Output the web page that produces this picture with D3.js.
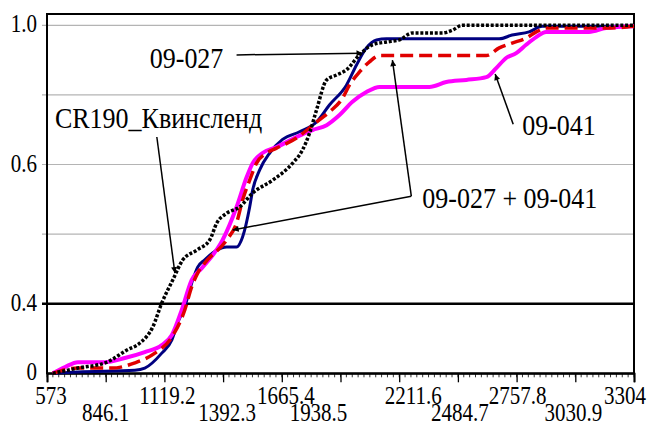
<!DOCTYPE html>
<html>
<head>
<meta charset="utf-8">
<script src="https://cdn.jsdelivr.net/npm/d3@7"></script>
<style>
  body { margin: 0; background: #fff; }
  svg { display: block; font-family: "Liberation Serif", "Times New Roman", serif; }
</style>
</head>
<body>
<svg id="chart" width="653" height="426"></svg>
<script>
'use strict';
// axis values
const xTicks = [573, 846.1, 1119.2, 1392.3, 1665.4, 1938.5, 2211.6, 2484.7, 2757.8, 3030.9, 3304];
const yTicks = [0, 0.2, 0.4, 0.6, 0.8, 1.0];
const yTickLabels = ["0", "0.4", "", "0.6", "", "1.0"];

// series, [value, cumulative share]
const s09027 = [[600,0],[717,0.004],[982,0.009],[1028,0.015],[1107,0.058],[1154,0.096],[1181,0.145],
  [1214,0.191],[1246,0.259],[1274,0.305],[1307,0.326],[1363,0.354],[1409,0.363],[1455,0.363],[1483,0.392],
  [1516,0.478],[1530,0.527],[1562,0.584],[1609,0.633],[1669,0.672],[1748,0.694],[1827,0.722],[1887,0.771],
  [1966,0.828],[2013,0.886],[2059,0.935],[2106,0.958],[2152,0.961],[2677,0.961],[2737,0.972],[2816,0.981],
  [2877,0.997],[3304,0.997]];
const s09041 = [[600,0],[657,0.018],[717,0.032],[842,0.032],[935,0.044],[1028,0.061],[1107,0.081],
  [1154,0.110],[1200,0.182],[1246,0.268],[1293,0.302],[1390,0.383],[1455,0.478],[1502,0.564],[1530,0.604],
  [1576,0.633],[1641,0.650],[1734,0.679],[1808,0.699],[1874,0.713],[1934,0.742],[1994,0.780],[2059,0.808],
  [2120,0.823],[2352,0.823],[2431,0.837],[2524,0.843],[2617,0.851],[2663,0.877],[2709,0.906],[2756,0.920],
  [2802,0.944],[2849,0.966],[2895,0.981],[3095,0.981],[3174,0.992],[3304,0.997]];
const sMix = [[600,0],[717,0.015],[875,0.015],[982,0.030],[1075,0.058],[1154,0.104],[1214,0.182],
  [1246,0.248],[1274,0.288],[1307,0.317],[1409,0.383],[1455,0.432],[1483,0.498],[1516,0.555],[1548,0.604],
  [1595,0.633],[1641,0.647],[1734,0.676],[1827,0.722],[1887,0.751],[1948,0.791],[1980,0.828],[2027,0.866],
  [2073,0.895],[2120,0.913],[2617,0.913],[2677,0.935],[2737,0.949],[2802,0.963],[2849,0.981],[2895,0.992],
  [3174,0.992],[3304,0.997]];
const sCR190 = [[600,0],[717,0.015],[852,0.032],[945,0.067],[1005,0.087],[1065,0.133],[1107,0.202],
  [1158,0.268],[1205,0.326],[1270,0.354],[1330,0.383],[1363,0.432],[1409,0.460],[1469,0.478],[1530,0.518],
  [1623,0.555],[1716,0.604],[1762,0.642],[1795,0.691],[1827,0.757],[1874,0.843],[1920,0.857],[1966,0.872],
  [2027,0.915],[2087,0.944],[2152,0.952],[2212,0.958],[2273,0.978],[2412,0.978],[2459,0.986],[2505,1.0],
  [3304,1.0]];

// annotations: text anchor, line start (or joint), arrow tips
const notes = [
  { text: "09-027", at: [1051, 0.877], from: [1455, 0.915], tips: [[2041, 0.920]] },
  { text: "CR190_Квинсленд", at: [610, 0.705], from: [1084, 0.679], tips: [[1168, 0.288]] },
  { text: "09-041", at: [2784, 0.685], from: [2742, 0.716], tips: [[2658, 0.860]] },
  { text: "09-027 + 09-041", at: [2319, 0.475], from: [2268, 0.509], tips: [[2180, 0.900], [1437, 0.412]] }
];

const svg = d3.select("#chart");
const plotLeft = 47, plotRight = 634, plotTop = 14, plotBottom = 373.3;
const x = d3.scaleLinear().domain([573, 3304]).range([plotLeft, plotRight]);
const y = d3.scaleLinear().domain([0, 1]).range([plotBottom, 25.3]);
const stretch = 1.16; // text in the source is drawn taller than wide

function label(g, px, py, str, size, anchor) {
  return g.append("text")
    .attr("transform", "translate(" + px + "," + py + ") scale(1," + stretch + ")")
    .attr("font-size", size)
    .attr("text-anchor", anchor)
    .text(str);
}

// grid
yTicks.forEach(function (v) {
  if (v === 0) return;
  svg.append("line")
    .attr("x1", plotLeft - 5).attr("x2", plotRight)
    .attr("y1", y(v)).attr("y2", y(v))
    .attr("stroke", v === 0.2 ? "#000" : "#b4b4b4")
    .attr("stroke-width", v === 0.2 ? 2.5 : 1.2);
});

// frame
svg.append("rect")
  .attr("x", plotLeft).attr("y", plotTop)
  .attr("width", plotRight - plotLeft).attr("height", plotBottom - plotTop)
  .attr("fill", "none").attr("stroke", "#000").attr("stroke-width", 2);

// y labels
yTicks.forEach(function (v, i) {
  if (!yTickLabels[i]) return;
  label(svg, 37, y(v) + 7, yTickLabels[i], 21, "end");
});

// x ticks
const minor = d3.range(0, 101).map(function (i) { return 573 + i * 27.31; });
svg.append("g").selectAll("line").data(minor).join("line")
  .attr("x1", d => x(d)).attr("x2", d => x(d))
  .attr("y1", plotBottom).attr("y2", plotBottom + 4)
  .attr("stroke", "#000").attr("stroke-width", 0.8);
svg.append("g")
  .attr("transform", "translate(0," + plotBottom + ")")
  .call(d3.axisBottom(x).tickValues(xTicks).tickSize(9).tickFormat(""))
  .call(g => g.select(".domain").attr("stroke-width", 2))
  .call(g => g.selectAll(".tick line").attr("stroke-width", 1.3));

const xNudge = [4, 0, 3, 4, 4, -22, 14, 2, 1, -2, -9];
xTicks.forEach(function (v, i) {
  const row = i % 2 === 0 ? 404 : 421;
  label(svg, x(v) + xNudge[i], row, String(v), 21, "middle");
});

// curves
const line = d3.line()
  .x(d => x(d[0])).y(d => y(d[1]))
  .curve(d3.curveMonotoneX);

const series = [
  { data: s09027, color: "#000080", width: 3, dash: null },
  { data: s09041, color: "#ff00ff", width: 4, dash: null },
  { data: sMix, color: "#e00000", width: 3.5, dash: "13,6" },
  { data: sCR190, color: "#000", width: 3.5, dash: "3,1.8" }
];
series.forEach(function (s) {
  svg.append("path")
    .attr("d", line(s.data))
    .attr("fill", "none")
    .attr("stroke", s.color)
    .attr("stroke-width", s.width)
    .attr("stroke-dasharray", s.dash);
});

// arrows
svg.append("defs").append("marker")
  .attr("id", "arrow")
  .attr("viewBox", "0 0 10 10")
  .attr("refX", 10).attr("refY", 5)
  .attr("markerWidth", 9).attr("markerHeight", 6)
  .attr("markerUnits", "userSpaceOnUse")
  .attr("orient", "auto")
  .append("path")
  .attr("d", "M0,0L10,5L0,10Z")
  .attr("fill", "#000");

notes.forEach(function (n) {
  n.tips.forEach(function (t) {
    svg.append("line")
      .attr("x1", x(n.from[0])).attr("y1", y(n.from[1]))
      .attr("x2", x(t[0])).attr("y2", y(t[1]))
      .attr("stroke", "#000").attr("stroke-width", 1.5)
      .attr("marker-end", "url(#arrow)");
  });
  label(svg, x(n.at[0]), y(n.at[1]), n.text, 26, "start");
});
</script>
</body>
</html>
